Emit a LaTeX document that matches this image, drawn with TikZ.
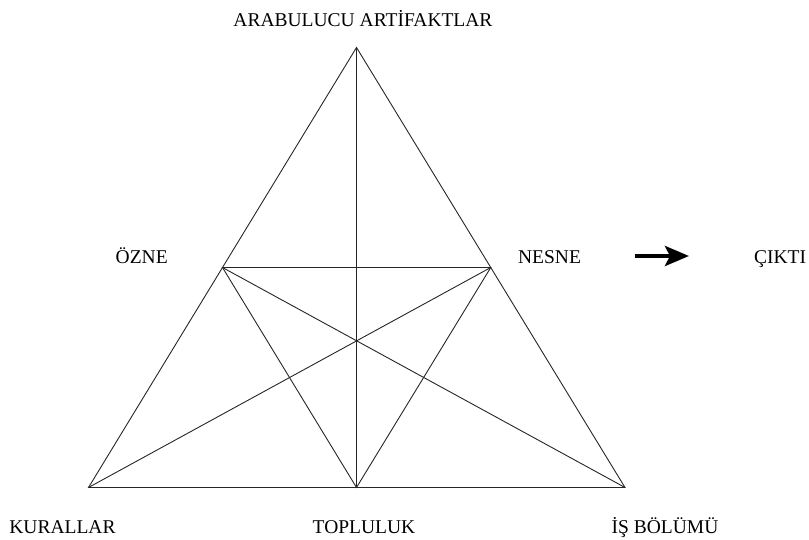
\documentclass[tikz,border=0pt]{standalone}
\usepackage{fontspec}
\setmainfont{Liberation Serif}
\usetikzlibrary{arrows.meta}
\begin{document}
\begin{tikzpicture}[x=1pt,y=-1pt,
  edge/.style={line width=0.9pt,draw=black!85},
  lbl/.style={anchor=base,inner sep=0pt,font=\fontsize{19.5}{21}\selectfont},
  bigarrow/.style={line width=4.2pt,-{Stealth[length=24pt,width=20pt,inset=5pt]}}]
  \useasboundingbox (0,0) rectangle (809,540);
  % vertices of the outer triangle and midpoints of its sides
  \coordinate (top) at (356.5,47.5);
  \coordinate (bl) at (88.5,487.5);
  \coordinate (br) at (625,487.5);
  \coordinate (bm) at (356.5,487.5);
  \coordinate (lm) at (222.5,267.5);
  \coordinate (rm) at (490.75,267.5);
  % outer triangle
  \draw[edge] (top) -- (bl) -- (br) -- cycle;
  % inner triangle
  \draw[edge] (lm) -- (rm) -- (bm) -- cycle;
  % medians
  \draw[edge] (top) -- (bm);
  \draw[edge] (lm) -- (br);
  \draw[edge] (rm) -- (bl);
  % labels
  \node[lbl] (art) at (363,27) {ARABULUCU ARTİFAKTLAR};
  \node[lbl] (ozne) at (141.7,263.5) {ÖZNE};
  \node[lbl] (nesne) at (549.5,264) {NESNE};
  \node[lbl] (cikti) at (780,263.5) {ÇIKTI};
  \node[lbl] (kur) at (62.5,533) {KURALLAR};
  \node[lbl] (top2) at (364,533) {TOPLULUK};
  \node[lbl] (isb) at (665,533) {İŞ BÖLÜMÜ};
  % output arrow
  \coordinate (as) at (635,256);
  \coordinate (ae) at (689,256);
  \draw[bigarrow] (as) -- (ae);
\end{tikzpicture}
\end{document}
